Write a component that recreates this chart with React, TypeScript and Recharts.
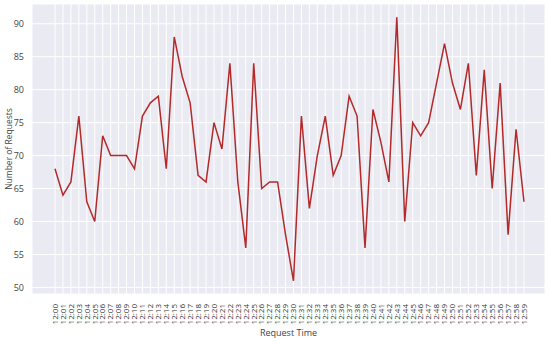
import React from 'react';
import {
  LineChart,
  Line,
  XAxis,
  YAxis,
  CartesianGrid,
} from 'recharts';

const minutes: string[] = Array.from({ length: 60 }, (_, i) => `12:${String(i).padStart(2, '0')}`);

const requests: number[] = [
  68, 64, 66, 76, 63, 60, 73, 70, 70, 70,
  68, 76, 78, 79, 68, 88, 82, 78, 67, 66,
  75, 71, 84, 66, 56, 84, 65, 66, 66, 58,
  51, 76, 62, 70, 76, 67, 70, 79, 76, 56,
  77, 72, 66, 91, 60, 75, 73, 75, 81, 87,
  81, 77, 84, 67, 83, 65, 81, 58, 74, 63,
];

const yTicks = [50, 55, 60, 65, 70, 75, 80, 85, 90];

const data = minutes.map((time, i) => ({ time, requests: requests[i] }));

const FONT = '"Open Sans", "DejaVu Sans", sans-serif';

// rotated minute labels, read bottom to top
function MinuteTick({ x, y, payload }: any) {
  const ty = y + 2;
  return (
    <text
      x={x}
      y={ty}
      transform={`rotate(-90, ${x}, ${ty})`}
      textAnchor="end"
      dy="0.35em"
      fontSize={8}
      fill="#333"
      fontFamily={FONT}
    >
      {payload.value}
    </text>
  );
}

export default function App() {
  return (
    <div style={{ position: 'absolute', left: 0, top: 0, background: '#fff' }}>
      <LineChart
        width={550}
        height={338}
        data={data}
        margin={{ top: 4, right: 5, bottom: 0, left: 0 }}
        style={{ fontFamily: FONT }}
      >
        <CartesianGrid fill="#EAEAF2" stroke="#fff" strokeWidth={1} />
        <XAxis
          dataKey="time"
          interval={0}
          tickLine={false}
          axisLine={false}
          height={44}
          padding={{ left: 23, right: 21 }}
          tick={<MinuteTick />}
          label={{ value: 'Request Time', position: 'insideBottom', offset: 2, fontSize: 9, fill: '#444' }}
        />
        <YAxis
          domain={[49, 93]}
          ticks={yTicks}
          width={32}
          tickLine={false}
          axisLine={false}
          tick={{ fontSize: 9, fill: '#444' }}
          label={{ value: 'Number of Requests', angle: -90, position: 'insideLeft', offset: 9, fontSize: 8.5, fill: '#444', style: { textAnchor: 'middle' } }}
        />
        <Line
          type="linear"
          dataKey="requests"
          stroke="#B22A2A"
          strokeWidth={1.5}
          dot={false}
          isAnimationActive={false}
        />
      </LineChart>
    </div>
  );
}
